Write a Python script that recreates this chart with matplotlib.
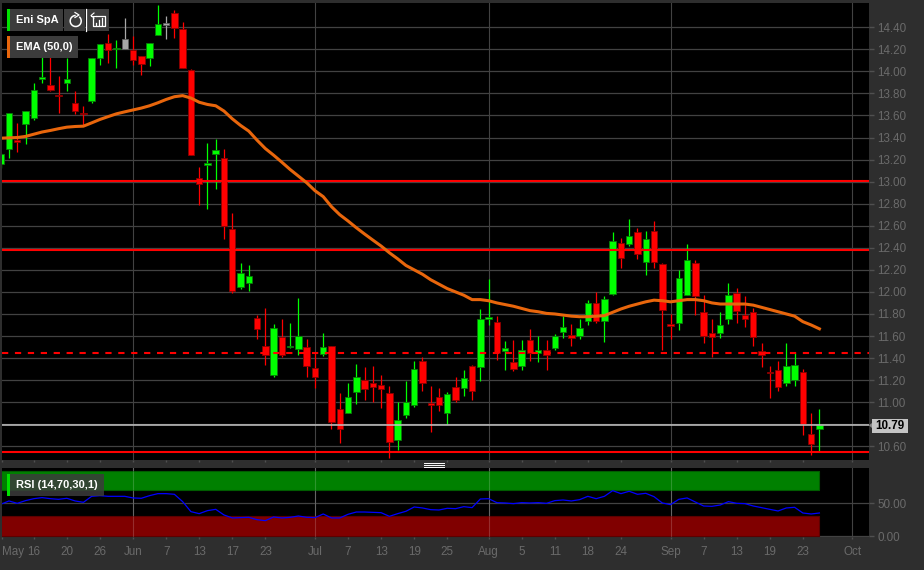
import matplotlib
matplotlib.use("Agg")
import matplotlib.pyplot as plt
from matplotlib.patches import Rectangle, Arc, Polygon

# daily candles
opens = [13.16, 13.30, 13.38, 13.52, 13.58, 13.93, 13.88, 13.79, 13.89, 13.71,
         13.62, 13.73, 14.12, 14.26, 14.20, 14.295, 14.19, 14.14, 14.12, 14.33,
         14.435, 14.53, 14.38, 14.01, 13.03, 13.15, 13.25, 13.21, 12.57, 12.04,
         12.08, 11.76, 11.51, 11.25, 11.59, 11.50, 11.48, 11.50, 11.31, 11.44,
         11.51, 10.94, 10.90, 11.09, 11.20, 11.17, 11.155, 11.08, 10.66, 10.88,
         10.97, 11.37, 10.995, 11.045, 10.90, 11.135, 11.13, 11.33, 11.32, 11.75,
         11.73, 11.46, 11.365, 11.33, 11.565, 11.45, 11.475, 11.49, 11.64, 11.61,
         11.60, 11.74, 11.90, 11.74, 11.98, 12.44, 12.43, 12.54, 12.27, 12.55,
         12.25, 11.71, 11.72, 11.97, 12.26, 11.82, 11.63, 11.63, 11.75, 11.99,
         11.79, 11.82, 11.46, 11.27, 11.29, 11.175, 11.20, 11.275, 10.715, 10.76]
closes = [13.255, 13.62, 13.36, 13.64, 13.83, 13.95, 13.83, 13.78, 13.93, 13.64,
          13.61, 14.12, 14.25, 14.19, 14.21, 14.20, 14.10, 14.07, 14.26, 14.43,
          14.425, 14.39, 14.03, 13.24, 12.98, 13.17, 13.285, 12.60, 12.006, 12.17,
          12.14, 11.66, 11.43, 11.67, 11.43, 11.51, 11.60, 11.33, 11.23, 11.50,
          10.82, 10.76, 11.045, 11.23, 11.12, 11.14, 11.12, 10.635, 10.84, 11.005,
          11.30, 11.17, 10.975, 10.97, 11.075, 11.02, 11.22, 11.10, 11.75, 11.77,
          11.45, 11.49, 11.30, 11.475, 11.45, 11.475, 11.43, 11.60, 11.68, 11.58,
          11.67, 11.90, 11.74, 11.94, 12.46, 12.31, 12.51, 12.34, 12.48, 12.27,
          11.84, 11.69, 12.13, 12.29, 11.96, 11.60, 11.59, 11.70, 11.97, 11.83,
          11.75, 11.59, 11.43, 11.26, 11.14, 11.33, 11.34, 10.805, 10.625, 10.79]
highs = [13.26, 13.62, 13.53, 13.64, 13.89, 14.15, 14.15, 13.96, 14.12, 13.82,
         13.69, 14.12, 14.25, 14.34, 14.28, 14.48, 14.32, 14.14, 14.26, 14.60,
         14.50, 14.56, 14.45, 14.02, 13.13, 13.35, 13.39, 13.30, 12.715, 12.26,
         12.245, 11.79, 11.85, 11.71, 11.75, 11.72, 11.945, 11.57, 11.445, 11.63,
         11.51, 11.08, 11.17, 11.345, 11.32, 11.33, 11.25, 11.15, 11.00, 11.19,
         11.37, 11.41, 11.15, 11.13, 11.09, 11.23, 11.29, 11.34, 11.845, 12.12,
         11.78, 11.555, 11.565, 11.56, 11.66, 11.60, 11.565, 11.62, 11.78, 11.71,
         11.75, 11.93, 12.00, 11.965, 12.545, 12.485, 12.66, 12.58, 12.555, 12.64,
         12.26, 11.80, 12.20, 12.435, 12.285, 11.97, 11.755, 11.82, 12.08, 12.035,
         11.965, 11.855, 11.535, 11.33, 11.37, 11.535, 11.445, 11.30, 10.90, 10.94]
lows = [13.12, 13.21, 13.27, 13.34, 13.56, 13.89, 13.82, 13.62, 13.82, 13.61,
        13.50, 13.715, 14.06, 14.08, 14.03, 14.20, 14.06, 13.97, 14.05, 14.33,
        14.29, 14.30, 14.03, 13.24, 12.79, 12.755, 12.93, 12.48, 11.99, 12.03,
        12.006, 11.57, 11.34, 11.23, 11.41, 11.49, 11.43, 11.23, 11.13, 11.42,
        10.755, 10.63, 10.90, 10.98, 11.02, 11.00, 10.945, 10.49, 10.57, 10.855,
        10.955, 11.10, 10.73, 10.92, 10.80, 11.00, 11.06, 11.02, 11.19, 11.70,
        11.38, 11.29, 11.28, 11.29, 11.37, 11.36, 11.29, 11.47, 11.58, 11.505,
        11.57, 11.70, 11.72, 11.55, 11.97, 12.22, 12.42, 12.30, 12.15, 12.22,
        11.47, 11.57, 11.65, 11.97, 11.79, 11.535, 11.41, 11.585, 11.705, 11.72,
        11.68, 11.505, 11.32, 11.04, 11.10, 11.15, 11.15, 10.70, 10.52, 10.55]
grey_bars = [15, 20]

ema = [13.394, 13.397, 13.40, 13.41, 13.43, 13.45, 13.464, 13.48, 13.494, 13.50,
       13.503, 13.533, 13.564, 13.59, 13.615, 13.633, 13.65, 13.667, 13.688, 13.715,
       13.745, 13.77, 13.78, 13.758, 13.72, 13.70, 13.688, 13.64, 13.57, 13.51,
       13.458, 13.376, 13.30, 13.24, 13.176, 13.11, 13.05, 12.99, 12.918, 12.864,
       12.773, 12.70, 12.643, 12.582, 12.525, 12.47, 12.416, 12.355, 12.30, 12.24,
       12.20, 12.16, 12.11, 12.07, 12.03, 12.00, 11.97, 11.93, 11.93, 11.92,
       11.90, 11.885, 11.87, 11.85, 11.83, 11.82, 11.805, 11.80, 11.79, 11.78,
       11.775, 11.775, 11.78, 11.785, 11.815, 11.845, 11.87, 11.89, 11.91, 11.925,
       11.92, 11.91, 11.92, 11.93, 11.93, 11.92, 11.90, 11.89, 11.89, 11.89,
       11.89, 11.88, 11.86, 11.84, 11.82, 11.80, 11.78, 11.73, 11.70, 11.665]

rsi = [48.5, 53.6, 50.0, 54.1, 57.1, 58.7, 57.1, 56.1, 57.7, 53.6,
       51.5, 60.7, 61.7, 60.7, 60.7, 60.7, 58.2, 57.7, 61.7, 64.8,
       64.8, 63.8, 52.6, 37.3, 34.2, 38.8, 40.8, 32.2, 27.6, 28.1,
       28.6, 25.0, 23.5, 29.1, 27.6, 28.6, 30.6, 28.6, 28.1, 33.7,
       27.6, 27.6, 33.2, 36.7, 36.7, 36.2, 35.7, 30.1, 34.2, 37.8,
       44.4, 42.9, 40.3, 39.8, 42.4, 41.8, 44.9, 43.4, 56.6, 57.1,
       51.0, 50.5, 49.5, 51.0, 50.5, 51.0, 50.0, 54.1, 55.1, 53.6,
       55.6, 60.7, 57.1, 60.7, 69.4, 64.8, 68.4, 63.8, 65.3, 60.2,
       50.5, 48.0, 56.1, 58.2, 52.0, 45.9, 45.4, 47.4, 52.6, 50.0,
       49.5, 45.9, 43.4, 40.8, 38.3, 42.9, 43.9, 35.2, 33.7, 35.2]

tick_pos = [0.2, 4, 8, 12, 16, 20, 24, 28, 32, 38, 42, 46, 50, 54, 59,
            63, 67, 71, 75, 81, 85, 89, 93, 97, 103]
tick_names = ["May", "16", "20", "26", "Jun", "7", "13", "17", "23", "Jul", "7", "13", "19",
              "25", "Aug", "5", "11", "18", "24", "Sep", "7", "13", "19", "23", "Oct"]
month_pos = [16, 38, 59, 81, 103]
price_ticks = [10.6, 10.8, 11.0, 11.2, 11.4, 11.6, 11.8, 12.0, 12.2, 12.4, 12.6, 12.8,
               13.0, 13.2, 13.4, 13.6, 13.8, 14.0, 14.2, 14.4]
solid_levels = [13.01, 12.38, 10.55]
dashed_level = 11.45
last_price = 10.79

W, H = 924, 570
BG = "#2e2e2e"
GRID = "#424242"
TICK_TEXT = "#6a6a6a"
plt.rcParams["font.family"] = ["Liberation Sans", "DejaVu Sans"]
plt.rcParams["font.size"] = 8


def px_axes(fig, left, top, right, bottom):
    return fig.add_axes([left / W, 1 - bottom / H, (right - left) / W, (bottom - top) / H])


fig = plt.figure(figsize=(W / 100, H / 100), dpi=100, facecolor=BG)
ax = px_axes(fig, 2, 3, 868.7, 459.5)
ax2 = px_axes(fig, 2, 468, 868.7, 537)

for a in (ax, ax2):
    a.set_facecolor("black")
    a.set_xlim(0.157, 104.96)
    for s in a.spines.values():
        s.set_visible(False)
    a.tick_params(colors="#505050", width=1, length=3.5, labelcolor=TICK_TEXT, labelsize=8.4, pad=2.5)
    a.yaxis.tick_right()
    a.set_xticks(tick_pos)
    for m in month_pos:
        a.axvline(m, color=GRID, lw=0.8, zorder=1)

# price panel, the 10.80 label sits under the last price tag so it stays blank
ax.set_ylim(10.48, 14.62)
ax.set_yticks(price_ticks)
ax.set_yticklabels(["" if v == 10.8 else f"{v:.2f}" for v in price_ticks])
ax.tick_params(axis="x", labelbottom=False, length=1.5)
for v in price_ticks:
    ax.axhline(v, color=GRID, lw=0.9, zorder=1)

for i in range(len(opens)):
    if i in grey_bars:
        col, edge = "#a8a8a8", "#606060"
    elif closes[i] >= opens[i]:
        col, edge = "#00ff00", "#0a7a0a"
    else:
        col, edge = "#ff0000", "#8a0000"
    ax.vlines(i, lows[i], highs[i], color=col, lw=0.9, zorder=2)
    ax.bar(i, abs(closes[i] - opens[i]), 0.78, min(opens[i], closes[i]),
           color=col, edgecolor=edge, linewidth=0.6, zorder=3)

ax.axhline(last_price, color="#c4c4c4", lw=1.1, zorder=4)
for lev in solid_levels:
    ax.axhline(lev, color="#ff0000", lw=1.5, zorder=5)
ax.axhline(dashed_level, color="#ff0000", lw=1.5, ls=(0, (3, 3.2)), zorder=5)
ax.plot(range(len(ema)), ema, color="#e8660c", lw=2.2, zorder=6)

# rsi panel
ax2.set_ylim(-1.5, 104)
ax2.set_yticks([0, 50])
ax2.set_yticklabels(["0.00", "50.00"])
ax2.set_xticklabels(tick_names)
ax2.tick_params(axis="x", pad=5, length=1.5, labelsize=8.4)
ax2.get_xticklabels()[0].set_ha("left")
ax2.axhline(50, color=GRID, lw=0.9, zorder=1)
ax2.axhline(0, color=GRID, lw=0.9, zorder=1)
xs = range(len(rsi))
ax2.fill_between(xs, 70, 100, facecolor="#008000", edgecolor="#005c00", lw=0.8, zorder=2)
ax2.fill_between(xs, 0, 30, facecolor="#800000", edgecolor="#5c0000", lw=0.8, zorder=2)
for m in month_pos[:-1]:
    ax2.axvline(m, color="#ffffff", alpha=0.18, lw=0.8, zorder=3)
ax2.plot(xs, rsi, color="#0000ff", lw=0.9, zorder=4)

# chrome drawn in pixel space over everything
ov = fig.add_axes([0, 0, 1, 1], facecolor="none", zorder=10)
ov.set_xlim(0, W)
ov.set_ylim(H, 0)
ov.axis("off")


def legend_box(x0, y0, x1, y1, colour, label, alpha=1.0):
    ov.add_patch(Rectangle((x0, y0), x1 - x0, y1 - y0, fc="#3c3c3c", ec="none", alpha=alpha))
    ov.add_patch(Rectangle((x0, y0), 3, y1 - y0, fc=colour, ec="none"))
    ov.text(x0 + 9, (y0 + y1) / 2, label, color="white", fontsize=8, fontweight="bold",
            va="center", ha="left")


legend_box(7, 9, 63, 31, "#00e000", "Eni SpA")
legend_box(7, 36, 78, 58, "#e8660c", "EMA (50,0)")
legend_box(7, 474, 104, 496, "#00e000", "RSI (14,70,30,1)", alpha=0.85)

# refresh and history buttons
ov.add_patch(Rectangle((64, 9), 21, 22, fc="#3c3c3c", ec="none"))
ov.add_patch(Rectangle((87, 9), 22, 22, fc="#3c3c3c", ec="none"))
ov.plot([86, 86], [9, 31], color="white", lw=0.9)
ov.add_patch(Arc((75.7, 21), 11, 11, theta1=-50, theta2=270, color="white", lw=1.1))
ov.plot([75, 79, 75], [12.5, 15, 17.5], color="white", lw=0.9)
ov.plot([96, 105, 105, 92.7, 92.7], [15.7, 15.7, 25.7, 25.7, 18], color="white", lw=0.9)
for bx, by in [(96, 22.5), (99, 20), (102, 18)]:
    ov.plot([bx, bx], [25, by], color="white", lw=0.9)
ov.plot([94, 91, 94], [13, 15.5, 18], color="white", lw=0.8)
ov.plot([91, 96], [15.5, 15.5], color="white", lw=0.8)

# last price tag
ov.add_patch(Polygon([(869, 425.5), (872, 423), (872, 428)], fc="#8a8a8a", ec="none"))
ov.add_patch(Rectangle((872, 419), 36, 14, fc="#c4c4c4", ec="none"))
ov.text(890, 426, f"{last_price:.2f}", color="black", fontsize=8.4, fontweight="bold",
        ha="center", va="center")

# panel splitter handle
for y in (462.5, 464.5, 466.5):
    ov.plot([424, 444], [y, y], color="white", lw=0.7)

fig.savefig("out.png", dpi=100, facecolor=BG)
